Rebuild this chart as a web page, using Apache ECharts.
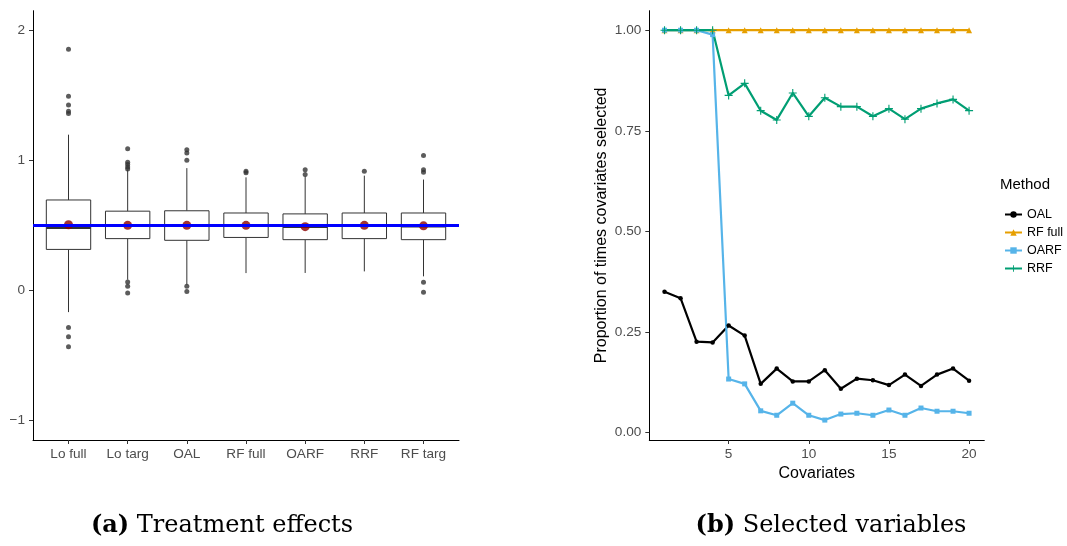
<!DOCTYPE html>
<html><head><meta charset="utf-8">
<script src="https://cdn.jsdelivr.net/npm/echarts@6/dist/echarts.min.js"></script>
<style>html,body{margin:0;padding:0;background:#fff}#c{width:1067px;height:546px}</style>
</head><body><div id="c"></div>
<script>
// ---------- Panel (a): treatment effects ----------
const methods = ['Lo full', 'Lo targ', 'OAL', 'RF full', 'OARF', 'RRF', 'RF targ'];
const whiskerLow  = [-0.167, 0.082, 0.044, 0.133, 0.134, 0.146, 0.108];
const q1          = [0.315, 0.398, 0.385, 0.407, 0.390, 0.398, 0.390];
const median      = [0.479, 0.500, 0.500, 0.500, 0.488, 0.498, 0.492];
const q3          = [0.695, 0.609, 0.612, 0.595, 0.588, 0.595, 0.595];
const whiskerHigh = [1.197, 0.928, 0.940, 0.869, 0.877, 0.882, 0.852];
const means       = [0.505, 0.500, 0.500, 0.500, 0.490, 0.500, 0.496];
const outliers = [
  [1.854, 1.492, 1.426, 1.377, 1.359, -0.285, -0.356, -0.433],
  [1.088, 0.985, 0.967, 0.949, 0.934, 0.065, 0.031, -0.020],
  [1.082, 1.057, 1.000, 0.031, -0.008],
  [0.915, 0.905],
  [0.928, 0.890],
  [0.915],
  [1.036, 0.928, 0.908, 0.062, -0.015]
];
const trueEffect = 0.5;
const yTicksA = [-1, 0, 1, 2];

// ---------- Panel (b): selected variables ----------
const covariates = [1,2,3,4,5,6,7,8,9,10,11,12,13,14,15,16,17,18,19,20];
const oal    = [0.350,0.334,0.226,0.224,0.266,0.241,0.121,0.159,0.127,0.127,0.155,0.109,0.134,0.130,0.118,0.144,0.116,0.144,0.159,0.129];
const rfFull = [1,1,1,1,1,1,1,1,1,1,1,1,1,1,1,1,1,1,1,1];
const oarf   = [1.000,1.000,1.000,0.989,0.133,0.121,0.054,0.043,0.073,0.043,0.031,0.046,0.048,0.043,0.056,0.043,0.061,0.053,0.053,0.048];
const rrf    = [1.000,1.000,1.000,1.000,0.838,0.868,0.800,0.777,0.844,0.786,0.832,0.810,0.810,0.786,0.805,0.779,0.805,0.818,0.828,0.800];
const xTicksB = [5, 10, 15, 20];
const yTicksB = [0, 0.25, 0.5, 0.75, 1];

const tickTxt = {color: '#4D4D4D', fontSize: 13.6, fontFamily: 'Liberation Sans, Arial, sans-serif'};
const axLine = {show: true, onZero: false, lineStyle: {color: '#000', width: 1}};
const axTick = {show: true, length: 4, lineStyle: {color: '#333', width: 1}};
const PLUS = 'path://M-1,-0.14 L-0.14,-0.14 L-0.14,-1 L0.14,-1 L0.14,-0.14 L1,-0.14 L1,0.14 L0.14,0.14 L0.14,1 L-0.14,1 L-0.14,0.14 L-1,0.14 Z';

const boxData = methods.map((m, i) => [i + 1, whiskerLow[i], q1[i], median[i], q3[i], whiskerHigh[i]]);
const outData = [];
outliers.forEach((arr, i) => arr.forEach(v => outData.push([i + 1, v])));
const meanData = means.map((v, i) => [i + 1, v]);

function renderBox(params, api) {
  const x = api.value(0);
  const lo = api.coord([x, api.value(1)]);
  const b1 = api.coord([x, api.value(2)]);
  const md = api.coord([x, api.value(3)]);
  const b3 = api.coord([x, api.value(4)]);
  const hi = api.coord([x, api.value(5)]);
  const w = api.size([0.75, 0])[0];
  const st = {stroke: '#333', lineWidth: 1, fill: null};
  return {type: 'group', children: [
    {type: 'line', shape: {x1: lo[0], y1: lo[1], x2: b1[0], y2: b1[1]}, style: st},
    {type: 'line', shape: {x1: b3[0], y1: b3[1], x2: hi[0], y2: hi[1]}, style: st},
    {type: 'rect', shape: {x: b3[0] - w / 2, y: b3[1], width: w, height: b1[1] - b3[1]}, style: {stroke: '#333', lineWidth: 1, fill: '#fff'}},
    {type: 'line', shape: {x1: md[0] - w / 2, y1: md[1], x2: md[0] + w / 2, y2: md[1]}, style: {stroke: '#333', lineWidth: 2}}
  ]};
}

const chart = echarts.init(document.getElementById('c'), null, {renderer: 'canvas'});
const lineSeries = (name, data, color, symbol, size) => ({
  name, type: 'line', xAxisIndex: 1, yAxisIndex: 1,
  data: covariates.map((c, i) => [c, data[i]]),
  lineStyle: {color, width: 2.2}, itemStyle: {color},
  symbol, symbolSize: size, showSymbol: true, animation: false
});
const capStyle = (txt) => ({
  text: txt, fill: '#000', align: 'center', verticalAlign: 'bottom',
  fontSize: 24, fontFamily: 'DejaVu Serif, serif',
  rich: {b: {fontWeight: 'bold', fontSize: 24, fontFamily: 'DejaVu Serif, serif', fill: '#000'}}
});

chart.setOption({
  animation: false,
  backgroundColor: '#fff',
  grid: [
    {left: 33, top: 10.7, width: 426, height: 429.3},
    {left: 649.3, top: 10.7, width: 335, height: 429.3}
  ],
  xAxis: [
    {type: 'value', gridIndex: 0, min: 0.4, max: 7.6,
     axisLine: axLine, axisTick: Object.assign({}, axTick, {customValues: [1,2,3,4,5,6,7]}),
     splitLine: {show: false},
     axisLabel: Object.assign({}, tickTxt, {customValues: [1,2,3,4,5,6,7], margin: 7,
       formatter: v => methods[Math.round(v) - 1] || ''})},
    {type: 'value', gridIndex: 1, min: 0.05, max: 20.95,
     name: 'Covariates', nameLocation: 'middle', nameGap: 22,
     nameTextStyle: {color: '#000', fontSize: 16, fontFamily: 'Liberation Sans, Arial, sans-serif'},
     axisLine: axLine, axisTick: Object.assign({}, axTick, {customValues: xTicksB}),
     splitLine: {show: false},
     axisLabel: Object.assign({}, tickTxt, {customValues: xTicksB, margin: 7})}
  ],
  yAxis: [
    {type: 'value', gridIndex: 0, min: -1.15, max: 2.15,
     axisLine: axLine, axisTick: Object.assign({}, axTick, {customValues: yTicksA}),
     splitLine: {show: false},
     axisLabel: Object.assign({}, tickTxt, {customValues: yTicksA, margin: 8,
       formatter: v => String(v).replace('-', '\u2212')})},
    {type: 'value', gridIndex: 1, min: -0.0185, max: 1.0485,
     name: 'Proportion of times covariates selected', nameLocation: 'middle', nameGap: 40, nameRotate: 90,
     nameTextStyle: {color: '#000', fontSize: 16, fontFamily: 'Liberation Sans, Arial, sans-serif'},
     axisLine: axLine, axisTick: Object.assign({}, axTick, {customValues: yTicksB}),
     splitLine: {show: false},
     axisLabel: Object.assign({}, tickTxt, {customValues: yTicksB, margin: 8, formatter: v => v.toFixed(2)})}
  ],
  legend: {
    data: ['OAL', 'RF full', 'OARF', 'RRF'],
    orient: 'vertical', left: 999, top: 203, itemWidth: 17, itemHeight: 8, itemGap: 5,
    textStyle: {color: '#000', fontSize: 12.5, fontFamily: 'Liberation Sans, Arial, sans-serif'}
  },
  graphic: [
    {type: 'text', left: 1000, top: 177, style: {text: 'Method', fill: '#000', fontSize: 15, fontFamily: 'Liberation Sans, Arial, sans-serif'}},
    {type: 'text', x: 222, y: 538, style: capStyle('{b|(a)} Treatment effects')},
    {type: 'text', x: 831, y: 538, style: capStyle('{b|(b)} Selected variables')}
  ],
  series: [
    {type: 'custom', xAxisIndex: 0, yAxisIndex: 0, data: boxData, renderItem: renderBox, z: 2, silent: true},
    {type: 'scatter', xAxisIndex: 0, yAxisIndex: 0, data: outData, symbolSize: 5, itemStyle: {color: '#333'}, z: 3, silent: true},
    {type: 'scatter', xAxisIndex: 0, yAxisIndex: 0, data: meanData, symbolSize: 9, itemStyle: {color: '#8B0000'}, z: 4, silent: true},
    {type: 'line', xAxisIndex: 0, yAxisIndex: 0, data: [], z: 5, silent: true,
     markLine: {silent: true, symbol: ['none', 'none'], label: {show: false},
       lineStyle: {color: '#0000FF', width: 3, type: 'solid'}, data: [{yAxis: trueEffect}]}},
    lineSeries('OAL', oal, '#000000', 'circle', 4.5),
    lineSeries('RF full', rfFull, '#E69F00', 'triangle', 6),
    lineSeries('OARF', oarf, '#56B4E9', 'rect', 5),
    lineSeries('RRF', rrf, '#009E73', PLUS, 8)
  ]
});
</script>
</body></html>
